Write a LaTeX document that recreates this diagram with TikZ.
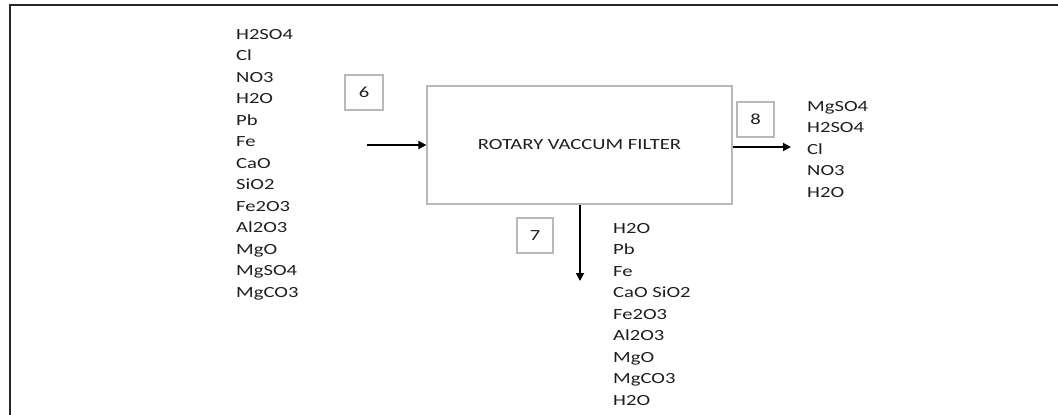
\documentclass[tikz,border=0pt]{standalone}
\usepackage{fontspec}
\setmainfont[FakeStretch=1.33]{Carlito}
\usetikzlibrary{arrows.meta}
\definecolor{boxgray}{RGB}{185,185,185}
\definecolor{txt}{RGB}{30,30,30}
\tikzset{
  lbl/.style={font=\fontsize{15.5}{21.5}\selectfont, text=txt, inner sep=0pt, align=left, anchor=north west},
  numbox/.style={draw=boxgray, line width=1.2pt, font=\fontsize{15.5}{18}\selectfont, text=txt, inner sep=0pt},
  unit/.style={draw=boxgray, line width=1.2pt, font=\fontsize{15.5}{18}\selectfont, text=txt, inner sep=0pt, minimum width=305pt, minimum height=118pt},
  flow/.style={line width=1.8pt, -{Triangle[length=8pt,width=8pt]}}
}
\begin{document}
\begin{tikzpicture}[x=1pt,y=-1pt]
\useasboundingbox (0,0) rectangle (1058,415);
\draw[line width=2.4pt, black!85] (10,415) coordinate (bl) -- (10,5) coordinate (tl) -- (1058,5) coordinate (tr);

\node[unit] (rvf) at (579.5,145) {ROTARY VACCUM FILTER};
\node[numbox, minimum width=38pt, minimum height=35pt] (n6) at (364,92.5) {6};
\node[numbox, minimum width=36pt, minimum height=35pt] (n7) at (535,235.5) {7};
\node[numbox, minimum width=37pt, minimum height=35pt] (n8) at (755.5,119.5) {8};

\node[lbl] (feed) at (236,29.0) {H2SO4\\Cl\\NO3\\H2O\\Pb\\Fe\\CaO\\SiO2\\Fe2O3\\Al2O3\\MgO\\MgSO4\\MgCO3};
\node[lbl] (cake) at (613,223.0) {H2O\\Pb\\Fe\\CaO SiO2\\Fe2O3\\Al2O3\\MgO\\MgCO3\\H2O};
\node[lbl] (filt) at (807,101.0) {MgSO4\\H2SO4\\Cl\\NO3\\H2O};

\coordinate (in) at (367,145);
\coordinate (outr) at (791,147);
\coordinate (outd) at (580,281);
\draw[flow] (in) -- (rvf.west |- in);
\draw[flow] (rvf.east |- outr) -- (outr);
\draw[flow] (rvf.south -| outd) -- (outd);
\end{tikzpicture}
\end{document}
